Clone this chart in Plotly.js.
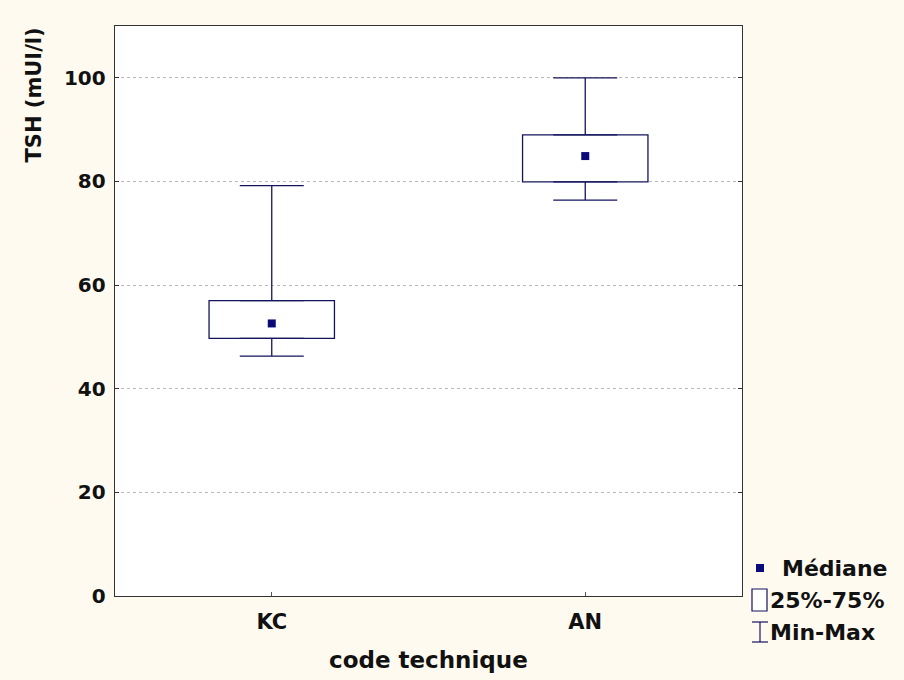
<!DOCTYPE html>
<html>
<head>
<meta charset="utf-8">
<script src="https://cdn.plot.ly/plotly-3.0.1.min.js"></script>
<style>html,body{margin:0;padding:0;background:#FEFAF0;}#chart{width:904px;height:680px;}</style>
</head>
<body>
<div id="chart"></div>
<script>
// Data
var categories = ['KC', 'AN'];
var minVals    = [46.3, 76.4];
var q1Vals     = [49.7, 79.9];
var medianVals = [52.6, 84.9];
var q3Vals     = [57.0, 89.0];
var maxVals    = [79.2, 100.0];
var yTickVals  = [0, 20, 40, 60, 80, 100];
var legendLabels = ['Médiane', '25%-75%', 'Min-Max'];

var NAVY = '#14145e';
var FONT = 'DejaVu Sans';

var traces = [
  {
    type: 'bar', x: categories, base: q1Vals,
    y: q3Vals.map(function (v, i) { return v - q1Vals[i]; }),
    width: 0.4,
    marker: {color: '#ffffff', line: {color: NAVY, width: 1.3}},
    showlegend: false, hoverinfo: 'skip'
  },
  {
    type: 'scatter', mode: 'markers', x: categories, y: q3Vals,
    marker: {color: 'rgba(0,0,0,0)', size: 1},
    error_y: {type: 'data', symmetric: false,
      array: maxVals.map(function (v, i) { return v - q3Vals[i]; }),
      arrayminus: q3Vals.map(function () { return 0; }),
      width: 32, thickness: 1.3, color: NAVY},
    showlegend: false, hoverinfo: 'skip'
  },
  {
    type: 'scatter', mode: 'markers', x: categories, y: q1Vals,
    marker: {color: 'rgba(0,0,0,0)', size: 1},
    error_y: {type: 'data', symmetric: false,
      array: q1Vals.map(function () { return 0; }),
      arrayminus: q1Vals.map(function (v, i) { return v - minVals[i]; }),
      width: 32, thickness: 1.3, color: NAVY},
    showlegend: false, hoverinfo: 'skip'
  },
  {
    type: 'scatter', mode: 'markers', x: categories, y: medianVals,
    marker: {symbol: 'square', color: '#0a0a78', size: 8},
    showlegend: false, hoverinfo: 'skip'
  }
];

// plot area in pixels: left 115, right 742, top 26, bottom 596
var L = 115, R = 742, T = 26, B = 596;
function px(x) { return (x - L) / (R - L); }
function py(y) { return (B - y) / (B - T); }

var layout = {
  width: 904, height: 680,
  margin: {l: L, r: 904 - R, t: T, b: 680 - B},
  paper_bgcolor: '#FEFAF0',
  plot_bgcolor: '#ffffff',
  showlegend: false,
  bargap: 0,
  xaxis: {
    type: 'category', range: [-0.5, 1.5],
    showline: true, linecolor: '#333333', linewidth: 1.3, mirror: true,
    ticks: 'inside', ticklen: 4, tickcolor: '#555555',
    showgrid: false, zeroline: false,
    ticklabelstandoff: 6,
    tickfont: {family: FONT, size: 21, color: '#111111', weight: 'bold'}
  },
  yaxis: {
    range: [0, 110], tickvals: yTickVals,
    showline: true, linecolor: '#333333', linewidth: 1.3, mirror: 'ticks',
    ticks: 'inside', ticklen: 4, tickcolor: '#333333',
    showgrid: true, gridcolor: '#b8b8b8', griddash: 'dot', gridwidth: 1,
    zeroline: false,
    ticklabelstandoff: 4,
    tickfont: {family: FONT, size: 20, color: '#111111', weight: 'bold'}
  },
  shapes: [
    // legend symbols
    {type: 'rect', xref: 'paper', yref: 'paper', x0: px(752), x1: px(767), y0: py(611), y1: py(589),
      line: {color: NAVY, width: 1.2}, fillcolor: '#ffffff'},
    {type: 'line', xref: 'paper', yref: 'paper', x0: px(760), x1: px(760), y0: py(642), y1: py(622),
      line: {color: NAVY, width: 1.2}},
    {type: 'line', xref: 'paper', yref: 'paper', x0: px(752), x1: px(768), y0: py(622), y1: py(622),
      line: {color: NAVY, width: 1.2}},
    {type: 'line', xref: 'paper', yref: 'paper', x0: px(752), x1: px(768), y0: py(642), y1: py(642),
      line: {color: NAVY, width: 1.2}},
    {type: 'rect', xref: 'paper', yref: 'paper', x0: px(756), x1: px(764), y0: py(572), y1: py(564),
      line: {width: 0}, fillcolor: '#0a0a78'}
  ],
  annotations: [
    {text: 'TSH (mUI/l)', xref: 'paper', yref: 'paper', x: px(33), y: py(26),
      xanchor: 'center', yanchor: 'top', textangle: -90, showarrow: false,
      font: {family: FONT, size: 21, color: '#111111', weight: 'bold'}},
    {text: 'code technique', xref: 'paper', yref: 'paper', x: 0.5, y: py(660),
      xanchor: 'center', yanchor: 'middle', showarrow: false,
      font: {family: FONT, size: 23, color: '#111111', weight: 'bold'}},
    {text: legendLabels[0], xref: 'paper', yref: 'paper', x: px(780), y: py(568),
      xanchor: 'left', yanchor: 'middle', showarrow: false,
      font: {family: FONT, size: 22, color: '#111111', weight: 'bold'}},
    {text: legendLabels[1], xref: 'paper', yref: 'paper', x: px(768), y: py(600),
      xanchor: 'left', yanchor: 'middle', showarrow: false,
      font: {family: FONT, size: 22, color: '#111111', weight: 'bold'}},
    {text: legendLabels[2], xref: 'paper', yref: 'paper', x: px(768), y: py(632),
      xanchor: 'left', yanchor: 'middle', showarrow: false,
      font: {family: FONT, size: 22, color: '#111111', weight: 'bold'}}
  ]
};

Plotly.newPlot('chart', traces, layout, {displayModeBar: false, staticPlot: true});
</script>
</body>
</html>
